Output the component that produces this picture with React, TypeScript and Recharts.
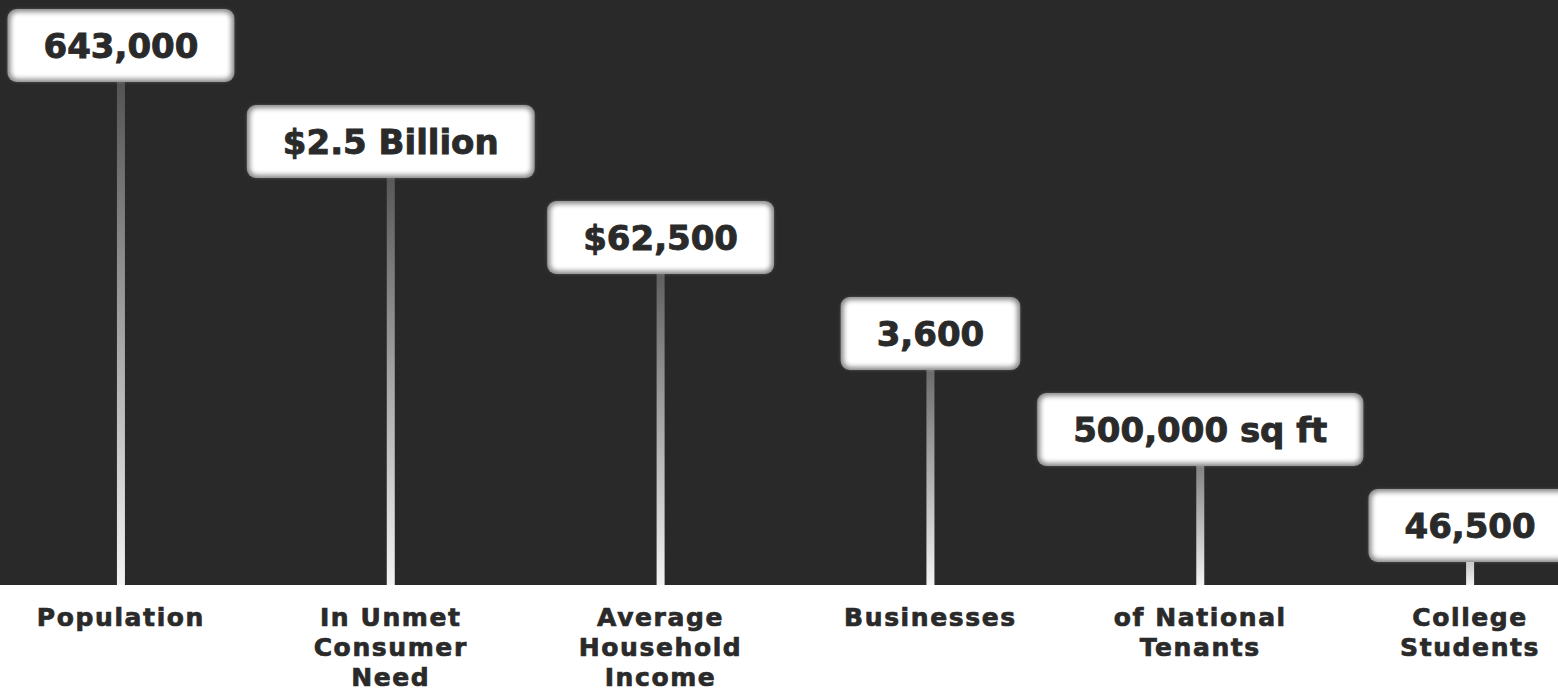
import React from 'react';
import { BarChart, Bar, XAxis, YAxis } from 'recharts';

// category captions, one entry per stem (split into lines as shown)
const categoryLines: string[][] = [
  ['Population'],
  ['In Unmet', 'Consumer', 'Need'],
  ['Average', 'Household', 'Income'],
  ['Businesses'],
  ['of National', 'Tenants'],
  ['College', 'Students'],
];
const figures = ['643,000', '$2.5 Billion', '$62,500', '3,600', '500,000 sq ft', '46,500'];
// stem height (rank step in the infographic)
const levels = [6, 5, 4, 3, 2, 1];

const data = categoryLines.map((lines, i) => ({
  name: lines.join(' '),
  figure: figures[i],
  level: levels[i],
}));

const DARK = '#292929';
const BOX_FONT = 'bold 34px "DejaVu Sans"';
const BOX_H = 73;

let ctx: CanvasRenderingContext2D | null = null;
const measure = (text: string, font: string) => {
  if (!ctx) ctx = document.createElement('canvas').getContext('2d');
  if (!ctx) return text.length * 20;
  ctx.font = font;
  return ctx.measureText(text).width;
};

const Stem = (props: any) => {
  const { x, y, width, height, payload } = props;
  const cx = x + width / 2;
  const w = measure(payload.figure, BOX_FONT) + 72;
  return (
    <g>
      <rect x={cx - 4} y={y} width={8} height={height} fill="url(#stemGrad)" />
      <rect x={cx - w / 2} y={y} width={w} height={BOX_H} rx={9} fill="#8a8a8a" />
      <rect
        x={cx - w / 2 + 3}
        y={y + 3}
        width={w - 6}
        height={BOX_H - 6}
        rx={7}
        fill="#ffffff"
        filter="url(#soft)"
      />
      <text
        x={cx}
        y={y + 49}
        textAnchor="middle"
        fill="#2a2a2a"
        stroke="#2a2a2a"
        strokeWidth={0.9}
        style={{ font: BOX_FONT }}
      >
        {payload.figure}
      </text>
    </g>
  );
};

const CategoryTick = (props: any) => {
  const { x, y, index } = props;
  const lines = categoryLines[index] || [];
  return (
    <text
      x={x}
      y={y}
      textAnchor="middle"
      fill="#2a2a2a"
      stroke="#2a2a2a"
      strokeWidth={0.7}
      style={{ fontFamily: '"DejaVu Sans"', fontWeight: 'bold', fontSize: 25, letterSpacing: 1.6 }}
    >
      {lines.map((l, i) => (
        <tspan key={i} x={x} y={y + 41 + i * 30}>
          {l}
        </tspan>
      ))}
    </text>
  );
};

export default function App() {
  return (
    <div
      style={{
        width: 1558,
        height: 694,
        background: `linear-gradient(to bottom, ${DARK} 0px, ${DARK} 585px, #ffffff 585px)`,
      }}
    >
      <style>{'body{margin:0}'}</style>
      <BarChart
        width={1558}
        height={694}
        data={data}
        margin={{ top: 9, right: -47, left: -14, bottom: 0 }}
        barCategoryGap="40%"
      >
        <defs>
          <linearGradient id="stemGrad" x1="0" y1="0" x2="0" y2="1">
            <stop offset="0%" stopColor="#3c3c3c" />
            <stop offset="100%" stopColor="#f4f4f4" />
          </linearGradient>
          <filter id="soft" x="-5%" y="-10%" width="110%" height="120%">
            <feGaussianBlur stdDeviation="2.5" />
          </filter>
        </defs>
        <XAxis
          dataKey="name"
          height={109}
          axisLine={false}
          tickLine={false}
          tickSize={0}
          tickMargin={0}
          interval={0}
          tick={<CategoryTick />}
        />
        <YAxis hide domain={[0, 6]} />
        <Bar dataKey="level" shape={<Stem />} isAnimationActive={false} />
      </BarChart>
    </div>
  );
}
